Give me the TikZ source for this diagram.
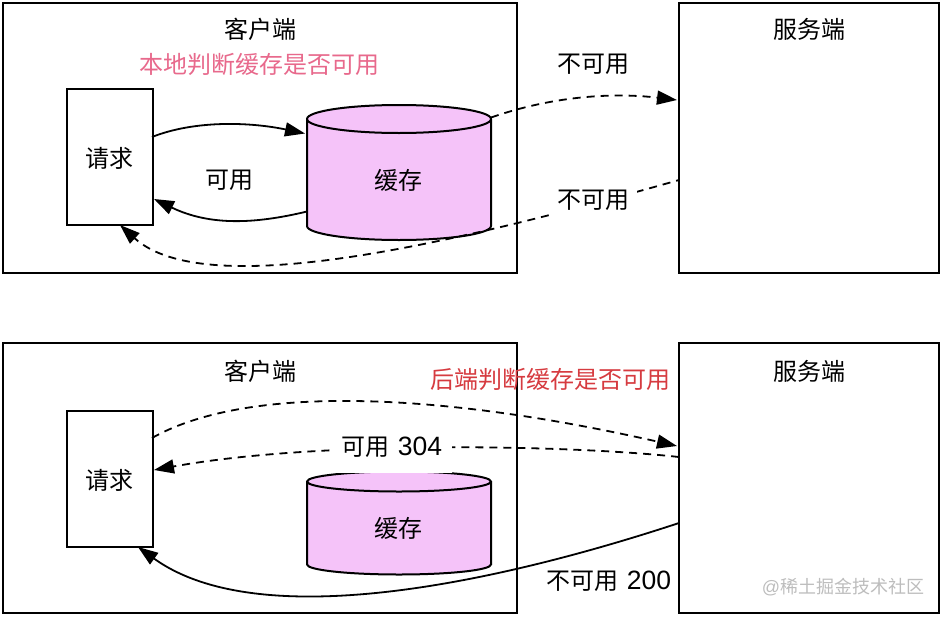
\documentclass[tikz,border=0pt]{standalone}
\usepackage{fontspec}
\setmainfont{Liberation Sans}
\newfontfamily\cjk{Noto Sans CJK SC}
\usetikzlibrary{arrows.meta}
\definecolor{cachepink}{HTML}{F5C3F9}
\definecolor{localpink}{HTML}{E8698C}
\definecolor{serverred}{HTML}{D63B40}
\definecolor{markgray}{HTML}{BDBDBD}
\newcommand{\lat}[1]{{\fontsize{26.5}{26.5}\selectfont\fontspec{Liberation Sans}#1}}
% node name, end-cap half height (in pt)
\newcommand{\cachedrum}[2]{%
  \path[draw=black,line width=2pt,fill=cachepink]
    ([yshift=-#2pt]#1.north west) -- ([yshift=#2pt]#1.south west)
    arc[start angle=180,end angle=360,x radius=92pt,y radius=#2pt]
    -- ([yshift=-#2pt]#1.north east)
    arc[start angle=0,end angle=180,x radius=92pt,y radius=#2pt] -- cycle;
  \draw[line width=2pt] ([yshift=-#2pt]#1.north west)
    arc[start angle=180,end angle=360,x radius=92pt,y radius=#2pt];
}
\tikzset{
  bigbox/.style={draw=black,line width=2pt,fill=white,minimum width=514pt,minimum height=270pt,inner sep=0pt,outer sep=0pt},
  srvbox/.style={bigbox,minimum width=260pt},
  reqbox/.style={bigbox,minimum width=86pt,minimum height=136pt},
  cachebox/.style={inner sep=0pt,outer sep=0pt,minimum width=184pt},
  txt/.style={inner sep=0pt,outer sep=0pt,font=\fontsize{24}{24}\selectfont\cjk},
  masktxt/.style={txt,fill=white},
  conn/.style={line width=1.8pt,-{Triangle[length=20pt,width=14pt]}},
  dashconn/.style={conn,dash pattern=on 8pt off 6pt},
}
\begin{document}
\begin{tikzpicture}[x=1pt,y=-1pt]
\useasboundingbox (0,0) rectangle (942,616);
% top row
\node[bigbox] (client1) at (260,138) {};
\node[srvbox] (server1) at (809,138) {};
\node[reqbox] (req1) at (110,157) {};
\node[cachebox,minimum height=135pt] (cache1) at (399,172.5) {};
\cachedrum{cache1}{14}
\node[txt] (ct1) at (260,29) {客户端};
\node[txt] (st1) at (809,29) {服务端};
\node[txt,text=localpink] (note1) at (259.5,64.5) {本地判断缓存是否可用};
\node[txt] (rt1) at (109.5,158) {请求};
\node[txt] (ca1) at (398.5,180.5) {缓存};
\node[txt] (ok1) at (229,180.5) {可用};
\node[txt] (no1) at (593,64.5) {不可用};
\draw[conn] ([xshift=-1,yshift=20]req1.east) .. controls (195,120) and (250,122) .. ([xshift=-2,yshift=39]cache1.west);
\draw[conn] ([yshift=-39]cache1.west) .. controls (255,224) and (210,226) .. ([yshift=-42,xshift=1]req1.east);
\draw[dashconn] ([yshift=55]cache1.east) .. controls (550,97) and (610,92) .. ([xshift=-2,yshift=38]server1.west);
\draw[dashconn,dash phase=5pt] ([yshift=-42]server1.west) .. controls (450,245) and (205,302) .. ([xshift=-33]req1.south east);
\node[masktxt,minimum width=88pt,minimum height=28pt] (no2) at (593,200.5) {不可用};
% bottom row
\node[bigbox] (client2) at (260,478) {};
\node[srvbox] (server2) at (809,478) {};
\node[reqbox] (req2) at (110,479) {};
\node[cachebox,minimum height=103pt] (cache2) at (399,523) {};
\cachedrum{cache2}{10}
\node[txt] (ct2) at (260,371) {客户端};
\node[txt] (st2) at (809,371) {服务端};
\node[txt,text=serverred] (note2) at (550.5,379.5) {后端判断缓存是否可用};
\node[txt] (rt2) at (109.5,480) {请求};
\node[txt] (ca2) at (398.5,528.5) {缓存};
\draw[dashconn] ([xshift=-1,yshift=41]req2.east) .. controls (240,388) and (420,388) .. ([xshift=-2,yshift=32]server2.west);
\draw[dashconn] ([yshift=21]server2.west) .. controls (570,445) and (320,440) .. ([xshift=1,yshift=9]req2.east);
\node[masktxt,minimum width=120pt,minimum height=48pt] (ok2) at (392,449) {\raisebox{5pt}{可用\hspace{8pt}\lat{304}}};
\draw[conn] ([yshift=-45]server2.west) .. controls (500,582) and (260,635) .. ([xshift=-15]req2.south east);
\node[txt,anchor=center] (no3) at (609,581.5) {不可用\hspace{8pt}\lat{200}};
\node[txt,text=markgray,font=\fontsize{18}{18}\selectfont\cjk] (mark) at (843,587) {{\fontspec{Liberation Sans}@}稀土掘金技术社区};
\end{tikzpicture}
\end{document}
